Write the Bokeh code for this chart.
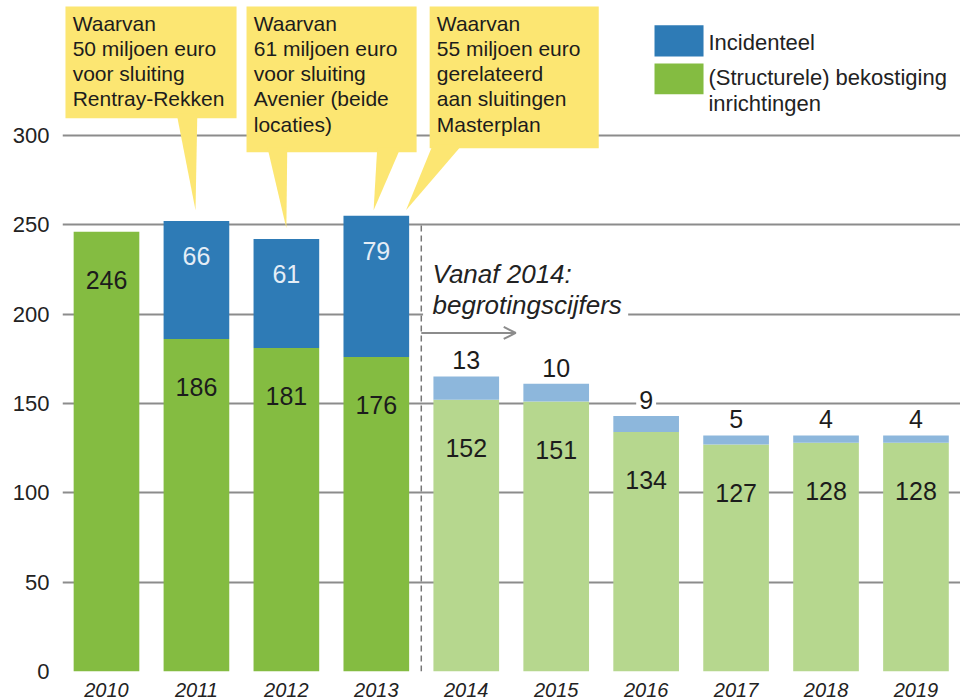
from bokeh.plotting import figure
from bokeh.models import ColumnDataSource, FixedTicker, Range1d, Arrow, OpenHead
from bokeh.core.properties import value
from bokeh.embed import file_html
from bokeh.resources import INLINE

# ---------------- data ----------------
years = ["2010", "2011", "2012", "2013", "2014", "2015", "2016", "2017", "2018", "2019"]
structural = [246, 186, 181, 176, 152, 151, 134, 127, 128, 128]
incidental = [0, 66, 61, 79, 13, 10, 9, 5, 4, 4]
is_forecast = [False, False, False, False, True, True, True, True, True, True]
y_ticks = [0, 50, 100, 150, 200, 250, 300]

callout_texts = [
    "Waarvan\n50 miljoen euro\nvoor sluiting\nRentray-Rekken",
    "Waarvan\n61 miljoen euro\nvoor sluiting\nAvenier (beide\nlocaties)",
    "Waarvan\n55 miljoen euro\ngerelateerd\naan sluitingen\nMasterplan",
]
legend_labels = ["Incidenteel", "(Structurele) bekostiging", "inrichtingen"]
forecast_note = ["Vanaf 2014:", "begrotingscijfers"]

# ---------------- style ----------------
FONT = "Liberation Sans"
GREEN, BLUE = "#84bc41", "#2e7bb6"
LGREEN, LBLUE = "#b6d78e", "#8db7dc"
YELLOW = "#fce672"
GRID = "#8c8c8c"
TXT = "#1c1c1c"

xs = list(range(len(years)))
totals = [s + i for s, i in zip(structural, incidental)]

src = ColumnDataSource(dict(
    x=xs,
    s=structural,
    inc=incidental,
    tot=totals,
    scol=[LGREEN if f else GREEN for f in is_forecast],
    icol=[LBLUE if f else BLUE for f in is_forecast],
    s_lab=[str(v) for v in structural],
    s_laby=[v - 27 for v in structural],
))

p = figure(width=960, height=699, output_backend="svg", toolbar_location=None,
           x_range=Range1d(-0.489, 9.495), y_range=Range1d(0, 375.4),
           min_border_left=62, min_border_right=0, min_border_top=0, min_border_bottom=27,
           background_fill_color="white", border_fill_color="white")
p.outline_line_color = None

# axes
p.yaxis.ticker = FixedTicker(ticks=y_ticks)
p.yaxis.axis_line_color = None
p.yaxis.major_tick_line_color = None
p.yaxis.minor_tick_line_color = None
p.yaxis.major_label_standoff = 7
p.yaxis.major_label_text_font = FONT
p.yaxis.major_label_text_font_size = "22px"
p.yaxis.major_label_text_color = "#222222"

p.xaxis.ticker = FixedTicker(ticks=xs)
p.xaxis.major_label_overrides = {i: y for i, y in enumerate(years)}
p.xaxis.axis_line_color = None
p.xaxis.major_tick_line_color = None
p.xaxis.minor_tick_line_color = None
p.xaxis.major_label_standoff = 5
p.xaxis.major_label_text_font = FONT
p.xaxis.major_label_text_font_style = "italic"
p.xaxis.major_label_text_font_size = "20px"
p.xaxis.major_label_text_color = "#222222"

p.xgrid.grid_line_color = None
p.ygrid.ticker = FixedTicker(ticks=y_ticks)
p.ygrid.grid_line_color = GRID
p.ygrid.grid_line_width = 2

# bars
W = 0.73
p.vbar(x="x", width=W, bottom=0, top="s", fill_color="scol", line_color=None, source=src)
p.vbar(x="x", width=W, bottom="s", top="tot", fill_color="icol", line_color=None, source=src)

# structural labels
p.text(x="x", y="s_laby", text="s_lab", source=src, text_align="center", text_baseline="middle",
       text_font=value(FONT), text_font_size="25px", text_color=TXT)

# incidental labels: inside for actuals, above for forecast
act = [i for i in xs if not is_forecast[i] and incidental[i] > 0]
fc = [i for i in xs if is_forecast[i]]
p.text(x=act, y=[totals[i] - 19.5 for i in act], text=[str(incidental[i]) for i in act],
       text_align="center", text_baseline="middle", text_font=value(FONT),
       text_font_size="25px", text_color="#e4edf6")
p.text(x=fc, y=[totals[i] + 9 for i in fc], text=[str(incidental[i]) for i in fc],
       text_align="center", text_baseline="middle", text_font=value(FONT),
       text_font_size="25px", text_color=TXT, background_fill_color="white", padding=3)

# forecast separator + note
p.segment(x0=[3.5], y0=[0], x1=[3.5], y1=[250], line_color="#777777", line_width=1.5, line_dash="6 4")
p.quad(left=[3.52], right=[5.8], bottom=[197], top=[203], fill_color="white", line_color=None)
p.add_layout(Arrow(x_start=3.5, y_start=189.4, x_end=4.55, y_end=189.4, line_color="#8c8c8c", line_width=2,
                   end=OpenHead(size=12, line_color="#8c8c8c", line_width=2)))
p.text(x=[3.625, 3.625], y=[222.3, 205], text=forecast_note, text_align="left", text_baseline="middle",
       text_font=value(FONT), text_font_style="italic", text_font_size="26px", text_color="#222222")

# callouts
box_l = [-0.456, 1.557, 3.593]
box_r = [1.446, 3.448, 5.473]
box_b = [309.5, 290.5, 292.7]
p.quad(left=box_l, right=box_r, bottom=box_b, top=[372] * 3, fill_color=YELLOW, line_color=None)
ptr_xs = [[0.78, 1.01, 0.99], [1.79, 2.01, 2.0], [3.01, 3.27, 2.97], [3.63, 3.96, 3.33]]
ptr_ys = [[312, 312, 258], [293, 293, 248], [293, 293, 258], [295, 295, 258]]
p.patches(xs=ptr_xs, ys=ptr_ys, fill_color=YELLOW, line_color=None)
p.text(x=[b + 0.08 for b in box_l], y=[369.2] * 3, text=callout_texts, text_align="left",
       text_baseline="top", text_font=value(FONT), text_font_size="21px", text_color=TXT,
       text_line_height=1.1)

# legend
p.quad(left=[6.093, 6.093], right=[6.638, 6.638], bottom=[344.1, 322.9], top=[361.5, 340.2],
       fill_color=[BLUE, GREEN], line_color=None)
p.text(x=[6.693] * 3, y=[352, 332.4, 318], text=legend_labels, text_align="left",
       text_baseline="middle", text_font=value(FONT), text_font_size="22px", text_color="#222222")

open("out.html", "w").write(file_html(p, INLINE))
